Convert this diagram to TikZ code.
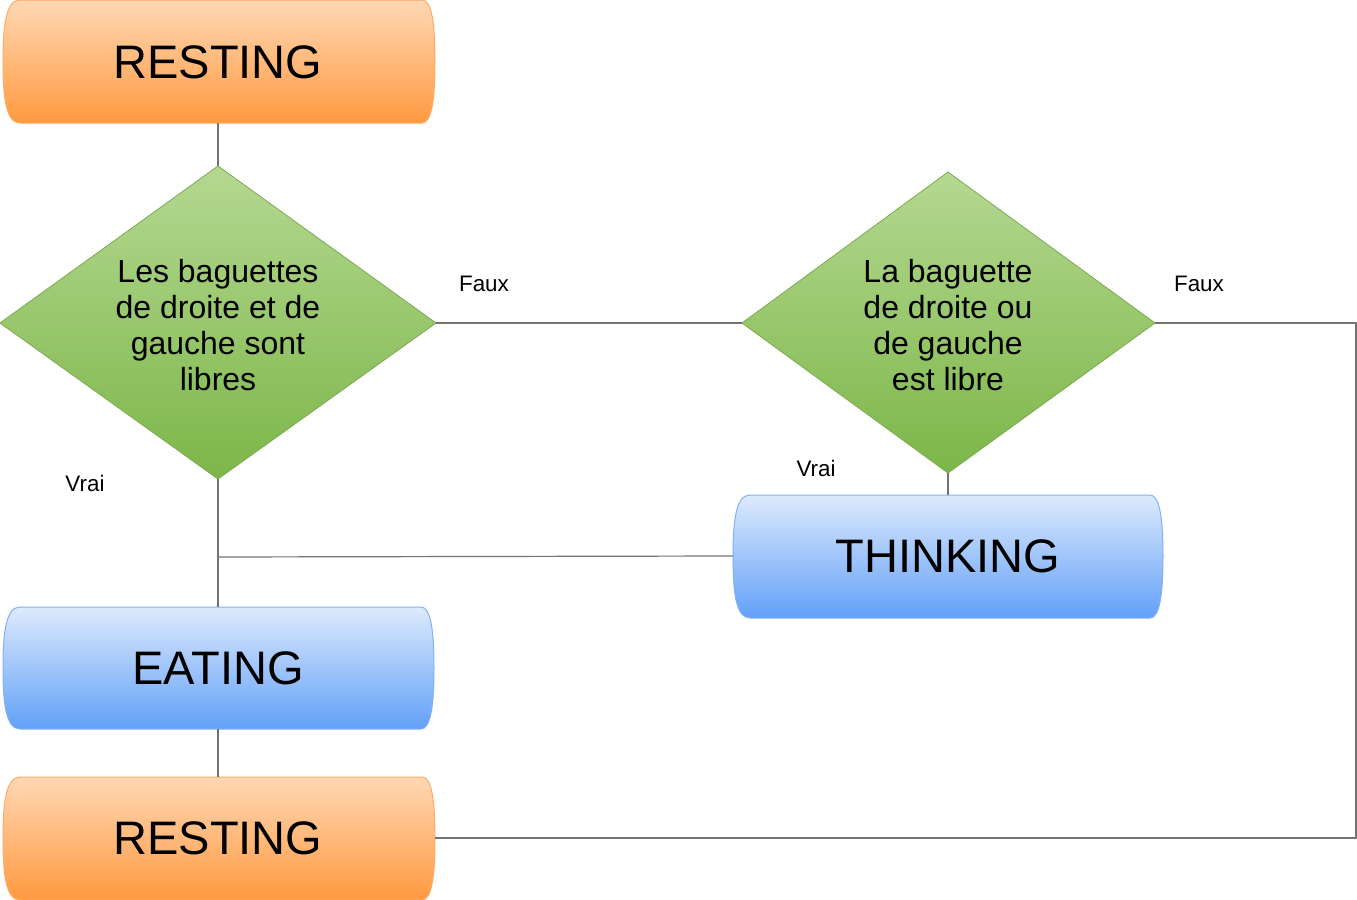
\documentclass[tikz,border=0pt]{standalone}
\usepackage{fontspec}
\setmainfont{Liberation Sans}
\begin{document}
\begin{tikzpicture}[x=0.5pt,y=-0.5pt,
  conn/.style={draw=gray!90!black, line width=0.6pt},
  lbl/.style={font=\fontsize{11.2}{13}\selectfont, inner sep=0pt},
  big/.style={font=\fontsize{23.5}{28}\selectfont, inner sep=0pt},
  mid/.style={font=\fontsize{16}{18}\selectfont, inner sep=0pt, align=center}]
\definecolor{ortop}{RGB}{255,215,180}
\definecolor{orbot}{RGB}{255,154,64}
\definecolor{orline}{RGB}{255,170,100}
\definecolor{bltop}{RGB}{221,234,252}
\definecolor{blbot}{RGB}{98,160,248}
\definecolor{blline}{RGB}{130,178,240}
\definecolor{grtop}{RGB}{180,216,145}
\definecolor{grbot}{RGB}{124,182,72}
\definecolor{grline}{RGB}{125,170,80}
\useasboundingbox (0,0) rectangle (1357,900);
% terminal shape: x1,y1,x2,y2,top,bottom,line
\newcommand{\termshape}[7]{%
  \shade[top color=#5,bottom color=#6,draw=#7,line width=0.5pt]
  ({#1+17},#2) -- ({#3-13},#2)
  .. controls ({#3-3},#2) and (#3,{#2+25}) .. (#3,{(#2+#4)/2})
  .. controls (#3,{#4-25}) and ({#3-3},#4) .. ({#3-13},#4)
  -- ({#1+17},#4)
  .. controls ({#1+3},#4) and (#1,{#4-25}) .. (#1,{(#2+#4)/2})
  .. controls (#1,{#2+25}) and ({#1+3},#2) .. ({#1+17},#2) -- cycle;}
% shapes
\termshape{3}{0}{435}{123}{ortop}{orbot}{orline}
\termshape{3}{777}{435}{900}{ortop}{orbot}{orline}
\termshape{3}{607}{434}{729}{bltop}{blbot}{blline}
\termshape{733}{495}{1163}{618}{bltop}{blbot}{blline}
\shade[top color=grtop,bottom color=grbot,draw=grline,line width=0.4pt]
  (218,166) -- (436,323) -- (218,479) -- (0,323) -- cycle;
\shade[top color=grtop,bottom color=grbot,draw=grline,line width=0.4pt]
  (948,172) -- (1155,323) -- (948,473) -- (742,323) -- cycle;
% named anchors
\coordinate (r1s) at (218,123);
\coordinate (d1n) at (218,166);
\coordinate (d1e) at (436,323);
\coordinate (d1s) at (218,479);
\coordinate (d2w) at (742,323);
\coordinate (d2e) at (1155,323);
\coordinate (d2s) at (948,473);
\coordinate (thn) at (948,495);
\coordinate (thw) at (733,556);
\coordinate (join) at (218,557);
\coordinate (ean) at (218,607);
\coordinate (eas) at (218,729);
\coordinate (r2n) at (218,777);
\coordinate (r2e) at (435,838);
\coordinate (corner1) at (1356,323);
\coordinate (corner2) at (1356,838);
% texts
\node[big] (rest1) at (218,62) {RESTING};
\node[big] (eat) at (218,668) {EATING};
\node[big] (think) at (948,556) {THINKING};
\node[big] (rest2) at (218,838) {RESTING};
\node[mid] (q1) at (218,325) {Les baguettes\\de droite et de\\gauche sont\\libres};
\node[mid] (q2) at (948,325) {La baguette\\de droite ou\\de gauche\\est libre};
\node[lbl] (f1) at (484,284) {Faux};
\node[lbl] (f2) at (1199,284) {Faux};
\node[lbl] (v1) at (85,483) {Vrai};
\node[lbl] (v2) at (816,468) {Vrai};
% connectors
\draw[conn] (r1s) -- (d1n);
\draw[conn] (d1e) -- (d2w);
\draw[conn] (d1s) -- (ean);
\draw[conn] (thw) -- (join);
\draw[conn] (d2s) -- (thn);
\draw[conn] (d2e) -- (corner1) -- (corner2) -- (r2e);
\draw[conn] (eas) -- (r2n);
\end{tikzpicture}
\end{document}
